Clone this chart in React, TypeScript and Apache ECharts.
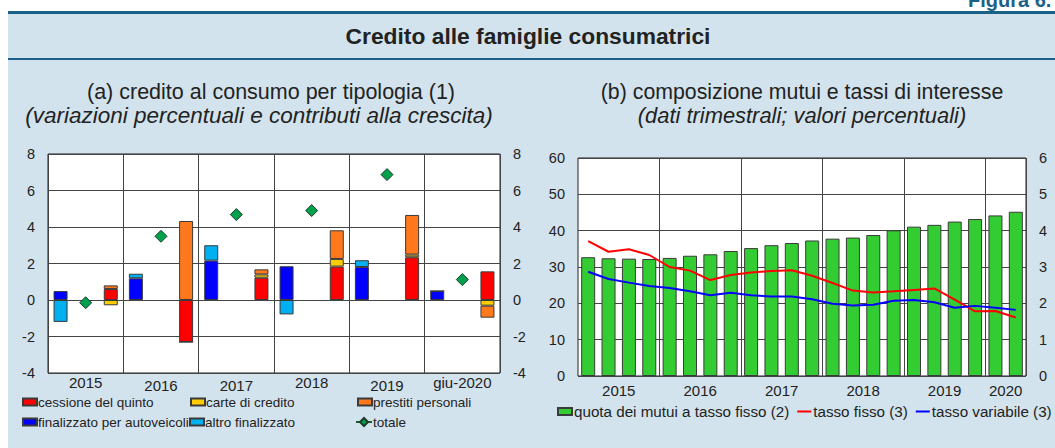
import React, { useEffect, useRef } from "react";
import * as echarts from "echarts";

// ---------- Panel (a) data ----------
const yearsA = ["2015", "2016", "2017", "2018", "2019", "giu-2020"];
const yearsALow = [false, true, true, false, true, false];
const cessione = [0.6, -2.3, 1.22, 1.83, 2.34, 1.57];
const carte = [-0.29, 0, 0.18, 0.42, 0.15, -0.31];
const prestiti = [0.2, 4.33, 0.28, 1.57, 2.17, -0.66];
const autoveicoli = [0.49, 1.19, 2.16, 1.85, 1.81, 0.49];
const altro = [-1.2, 0.25, 0.84, -0.79, 0.37, 0];
const totale = [-0.15, 3.49, 4.68, 4.9, 6.87, 1.12];

// ---------- Panel (b) data ----------
const quarters = [
  "2015-T1", "2015-T2", "2015-T3", "2015-T4",
  "2016-T1", "2016-T2", "2016-T3", "2016-T4",
  "2017-T1", "2017-T2", "2017-T3", "2017-T4",
  "2018-T1", "2018-T2", "2018-T3", "2018-T4",
  "2019-T1", "2019-T2", "2019-T3", "2019-T4",
  "2020-T1", "2020-T2",
];
const yearsB = ["2015", "2016", "2017", "2018", "2019", "2020"];
const quotaFisso = [32.7, 32.4, 32.3, 32.2, 32.5, 33.1, 33.5, 34.4, 35.2, 36.0, 36.6, 37.3, 37.8, 38.1, 38.8, 40.1, 41.1, 41.6, 42.5, 43.2, 44.2, 45.2];
const tassoFisso = [3.71, 3.42, 3.49, 3.33, 3.0, 2.9, 2.64, 2.78, 2.85, 2.89, 2.91, 2.76, 2.56, 2.35, 2.3, 2.33, 2.37, 2.41, 2.1, 1.78, 1.79, 1.61];
const tassoVariabile = [2.87, 2.67, 2.57, 2.48, 2.42, 2.33, 2.22, 2.29, 2.22, 2.19, 2.19, 2.11, 1.99, 1.94, 1.96, 2.07, 2.09, 2.03, 1.88, 1.93, 1.88, 1.82];

const FONT = "'Liberation Sans', Arial, Helvetica, sans-serif";
const TXT = "#222222";
const GRIDLINE = "#444444";
const BORDER = "#3a3a3a";

const SLOTS = 3;
const slotCats = yearsA.flatMap((y) => [y + "-a", y + "-b", y + "-c"]);
function slot(vals: number[], offset: number): (number | null)[] {
  const arr: (number | null)[] = new Array(yearsA.length * SLOTS).fill(null);
  vals.forEach((v, i) => {
    arr[i * SLOTS + offset] = v;
  });
  return arr;
}

// label positions for panel (b): centre of each year's quarters
const yearCenters: Record<number, string> = {};
yearsB.forEach((y) => {
  const idx = quarters.map((q, i) => (q.startsWith(y) ? i : -1)).filter((i) => i >= 0);
  const c = (idx[0] + idx[idx.length - 1] + 1) / 2;
  yearCenters[c] = y;
});

export default function App() {
  const ref = useRef<HTMLDivElement>(null);
  useEffect(() => {
    document.body.style.margin = "0";
    if (!ref.current) return;
    const chart = echarts.init(ref.current, null, { renderer: "svg" });

    const barBase = {
      type: "bar" as const,
      xAxisIndex: 0,
      yAxisIndex: 0,
      barWidth: 14,
      barGap: "-100%",
    };
    const bs = (color: string) => ({ color, borderColor: BORDER, borderWidth: 1 });

    const legendCommon = {
      orient: "horizontal" as const,
      padding: 0,
      itemWidth: 14,
      itemHeight: 7,
      textStyle: { fontFamily: FONT, fontSize: 13.5, color: TXT, padding: [0, 0, 0, -4] },
    };

    const option: any = {
      animation: false,
      backgroundColor: "#ffffff",
      textStyle: { fontFamily: FONT },
      graphic: [
        { type: "rect", left: 8, top: 12, shape: { width: 1047, height: 436 }, style: { fill: "#d2e3ed" }, z: -10 },
        { type: "rect", left: 8, top: 11, shape: { width: 1047, height: 3 }, style: { fill: "#1b6187" }, z: -9 },
        { type: "rect", left: 8, top: 58, shape: { width: 1047, height: 2 }, style: { fill: "#1b6187" }, z: -9 },
        {
          type: "text", x: 968, y: 0, z: 10,
          style: { text: "Figura 6.", fill: "#1b6187", font: `bold 20px ${FONT}`, align: "left", verticalAlign: "middle" },
        },
        {
          type: "text", x: 528, y: 36, z: 10,
          style: { text: "Credito alle famiglie consumatrici", fill: TXT, font: `bold 22.8px ${FONT}`, align: "center", verticalAlign: "middle" },
        },
        {
          type: "text", x: 271, y: 92, z: 10,
          style: { text: "(a) credito al consumo per tipologia (1)", fill: TXT, font: `21.5px ${FONT}`, align: "center", verticalAlign: "middle" },
        },
        {
          type: "text", x: 259, y: 115, z: 10,
          style: { text: "(variazioni percentuali e contributi alla crescita)", fill: TXT, font: `italic 22.5px ${FONT}`, align: "center", verticalAlign: "middle" },
        },
        {
          type: "text", x: 802, y: 92, z: 10,
          style: { text: "(b) composizione mutui e tassi di interesse", fill: TXT, font: `21.3px ${FONT}`, align: "center", verticalAlign: "middle" },
        },
        {
          type: "text", x: 802, y: 115, z: 10,
          style: { text: "(dati trimestrali; valori percentuali)", fill: TXT, font: `italic 21.9px ${FONT}`, align: "center", verticalAlign: "middle" },
        },
      ],
      legend: [
        { ...legendCommon, left: 22, top: 395, data: [{ name: "cessione del quinto", icon: "rect" }] },
        { ...legendCommon, left: 190, top: 395, data: [{ name: "carte di credito", icon: "rect" }] },
        { ...legendCommon, left: 357, top: 395, data: [{ name: "prestiti personali", icon: "rect" }] },
        { ...legendCommon, left: 22, top: 415, data: [{ name: "finalizzato per autoveicoli", icon: "rect" }] },
        { ...legendCommon, left: 189, top: 415, data: [{ name: "altro finalizzato", icon: "rect" }] },
        { ...legendCommon, left: 355, top: 415, itemWidth: 16, itemHeight: 10, data: [{ name: "totale" }] },
        {
          ...legendCommon,
          left: 557,
          top: 404,
          itemGap: 7,
          textStyle: { fontFamily: FONT, fontSize: 15.2, color: TXT, padding: [0, 0, 0, -3] },
          data: [
            { name: "quota dei mutui a tasso fisso (2)", icon: "rect" },
            { name: "tasso fisso (3)", itemStyle: { opacity: 0 } },
            { name: "tasso variabile (3)", itemStyle: { opacity: 0 } },
          ],
        },
      ],
      grid: [
        { left: 48, right: 555, top: 154, bottom: 75, show: true, backgroundColor: "#ffffff", borderColor: "#222", borderWidth: 1, containLabel: false },
        { left: 578, right: 29, top: 158, bottom: 72, show: true, backgroundColor: "#ffffff", borderColor: "#222", borderWidth: 1, containLabel: false },
      ],
      xAxis: [
        {
          type: "category", gridIndex: 0, data: slotCats, position: "bottom",
          axisLine: { show: false }, axisTick: { show: false }, axisLabel: { show: false }, splitLine: { show: false },
        },
        {
          type: "category", gridIndex: 0, data: yearsA, position: "bottom",
          axisLine: { show: false }, axisTick: { show: false },
          axisLabel: {
            interval: 0, margin: 2, color: TXT, fontSize: 15, fontFamily: FONT,
            formatter: (v: string) => {
              const i = yearsA.indexOf(v);
              return yearsALow[i] ? `{lo|${v}}` : `{hi|${v}}`;
            },
            rich: {
              lo: { fontSize: 15, color: TXT, fontFamily: FONT, padding: [3, 0, 0, 0] },
              hi: { fontSize: 15, color: TXT, fontFamily: FONT, padding: [0, 0, 0, 0] },
            },
          },
          splitLine: { show: true, interval: 0, lineStyle: { color: GRIDLINE, width: 1 } },
        },
        {
          type: "category", gridIndex: 1, data: quarters, position: "bottom",
          axisLine: { show: false }, axisTick: { show: false }, axisLabel: { show: false },
          splitLine: {
            show: true,
            interval: (i: number) => i > 0 && quarters[i].slice(0, 4) !== quarters[i - 1].slice(0, 4),
            lineStyle: { color: GRIDLINE, width: 1 },
          },
        },
        {
          type: "value", gridIndex: 1, min: 0, max: quarters.length, interval: 1, position: "bottom",
          axisLine: { show: false }, axisTick: { show: false }, splitLine: { show: false },
          axisLabel: {
            margin: 7, color: TXT, fontSize: 15, fontFamily: FONT, showMinLabel: true, showMaxLabel: true,
            formatter: (v: number) => yearCenters[v] ?? "",
          },
        },
      ],
      yAxis: [
        {
          type: "value", gridIndex: 0, min: -4, max: 8, interval: 2, position: "left",
          axisLine: { show: false }, axisTick: { show: false },
          axisLabel: { margin: 13, color: TXT, fontSize: 14.5, fontFamily: FONT },
          splitLine: { show: true, lineStyle: { color: GRIDLINE, width: 1 } },
        },
        {
          type: "value", gridIndex: 0, min: -4, max: 8, interval: 2, position: "right",
          axisLine: { show: false }, axisTick: { show: false },
          axisLabel: { margin: 13, color: TXT, fontSize: 14.5, fontFamily: FONT },
          splitLine: { show: false },
        },
        {
          type: "value", gridIndex: 1, min: 0, max: 60, interval: 10, position: "left",
          axisLine: { show: false }, axisTick: { show: false },
          axisLabel: { margin: 13, color: TXT, fontSize: 14.5, fontFamily: FONT },
          splitLine: { show: true, lineStyle: { color: GRIDLINE, width: 1 } },
        },
        {
          type: "value", gridIndex: 1, min: 0, max: 6, interval: 1, position: "right",
          axisLine: { show: false }, axisTick: { show: false },
          axisLabel: { margin: 13, color: TXT, fontSize: 14.5, fontFamily: FONT },
          splitLine: { show: false },
        },
      ],
      series: [
        { ...barBase, name: "cessione del quinto", stack: "R", data: slot(cessione, 2), itemStyle: bs("#ff0000") },
        { ...barBase, name: "carte di credito", stack: "R", data: slot(carte, 2), itemStyle: bs("#ffcc00") },
        { ...barBase, name: "prestiti personali", stack: "R", data: slot(prestiti, 2), itemStyle: bs("#ff781c") },
        { ...barBase, name: "finalizzato per autoveicoli", stack: "L", data: slot(autoveicoli, 0), itemStyle: bs("#0000ff") },
        { ...barBase, name: "altro finalizzato", stack: "L", data: slot(altro, 0), itemStyle: bs("#00b0f0") },
        {
          type: "line", name: "totale", xAxisIndex: 0, yAxisIndex: 0, data: slot(totale, 1),
          symbol: "diamond", symbolSize: 12, showSymbol: true, showAllSymbol: true, connectNulls: false,
          itemStyle: { color: "#00a04c", borderColor: "#1d3b2a", borderWidth: 1 },
          lineStyle: { color: "#1d5b34", width: 1 }, z: 5,
        },
        {
          type: "bar", name: "quota dei mutui a tasso fisso (2)", xAxisIndex: 2, yAxisIndex: 2, barWidth: 14,
          data: quotaFisso, itemStyle: { color: "#33cc33", borderColor: BORDER, borderWidth: 1 },
        },
        {
          type: "line", name: "tasso fisso (3)", xAxisIndex: 2, yAxisIndex: 3, data: tassoFisso,
          symbol: "none", lineStyle: { color: "#ff0000", width: 2 }, itemStyle: { color: "#ff0000" }, z: 5,
        },
        {
          type: "line", name: "tasso variabile (3)", xAxisIndex: 2, yAxisIndex: 3, data: tassoVariabile,
          symbol: "none", lineStyle: { color: "#0000ff", width: 2 }, itemStyle: { color: "#0000ff" }, z: 5,
        },
      ],
    };
    chart.setOption(option);
    return () => chart.dispose();
  }, []);
  return <div ref={ref} style={{ width: 1055, height: 448 }} />;
}
